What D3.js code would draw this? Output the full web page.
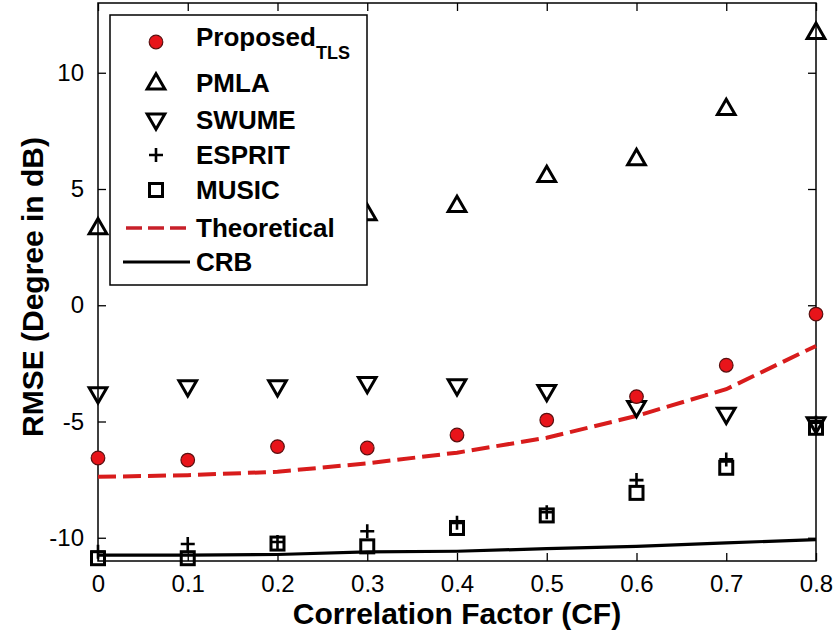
<!DOCTYPE html>
<html>
<head>
<meta charset="utf-8">
<script src="https://cdn.jsdelivr.net/npm/d3@7"></script>
<style>
  html, body { margin: 0; padding: 0; background: #fff; }
  svg { display: block; font-family: "Liberation Sans", Arial, sans-serif; }
</style>
</head>
<body>
<svg id="chart" width="836" height="637"></svg>
<script>
// Correlation factor values (x axis)
const cf = [0, 0.1, 0.2, 0.3, 0.4, 0.5, 0.6, 0.7, 0.8];

// RMSE (dB) for each estimator
const proposedTLS = [-6.57, -6.66, -6.08, -6.14, -5.58, -4.94, -3.93, -2.58, -0.38];
const pmla        = [3.34, 3.5, 3.7, 3.94, 4.29, 5.58, 6.31, 8.47, 11.74];
const swume       = [-3.81, -3.51, -3.51, -3.37, -3.47, -3.71, -4.40, -4.69, -5.10];
const esprit      = [-10.6, -10.27, -10.18, -9.72, -9.36, -8.9, -7.52, -6.63, -5.05];
const music       = [-10.88, -10.88, -10.25, -10.37, -9.58, -9.04, -8.07, -6.99, -5.27];
const theoretical = [-7.38, -7.31, -7.16, -6.80, -6.34, -5.70, -4.76, -3.61, -1.75];
const crb         = [-10.75, -10.75, -10.72, -10.61, -10.58, -10.47, -10.37, -10.22, -10.08];

// Axis ticks
const xTicks = [0, 0.1, 0.2, 0.3, 0.4, 0.5, 0.6, 0.7, 0.8];
const yTicks = [-10, -5, 0, 5, 10];

const legendLabels = ["Proposed", "PMLA", "SWUME", "ESPRIT", "MUSIC", "Theoretical", "CRB"];

const svg = d3.select("#chart");
const plotLeft = 98, plotRight = 816, plotTop = 3, plotBottom = 561;

const x = d3.scaleLinear().domain([0, 0.8]).range([plotLeft, plotRight]);
const y = d3.scaleLinear().domain([-11, 13]).range([plotBottom, plotTop]);

const font = '"Liberation Sans", Arial, sans-serif';

// Axes: ticks pointing inward on all four sides
const axisBottom = d3.axisBottom(x).tickValues(xTicks).tickSizeInner(-8).tickSizeOuter(0)
  .tickPadding(14).tickFormat(d => d === 0 ? "0" : d.toFixed(1));
const axisTop = d3.axisTop(x).tickValues(xTicks).tickSizeInner(-8).tickSizeOuter(0).tickFormat("");
const axisLeft = d3.axisLeft(y).tickValues(yTicks).tickSizeInner(-8).tickSizeOuter(0)
  .tickPadding(14).tickFormat(d => String(d));
const axisRight = d3.axisRight(y).tickValues(yTicks).tickSizeInner(-8).tickSizeOuter(0).tickFormat("");

function styleAxis(g) {
  g.select(".domain").remove();
  g.selectAll(".tick line").attr("stroke", "#000").attr("stroke-width", 1.3);
  g.selectAll(".tick text").attr("fill", "#000").style("font-size", "24px").style("font-family", font);
}

svg.append("g").attr("transform", `translate(0,${plotBottom})`).call(axisBottom).call(styleAxis);
svg.append("g").attr("transform", `translate(0,${plotTop})`).call(axisTop).call(styleAxis);
svg.append("g").attr("transform", `translate(${plotLeft},0)`).call(axisLeft).call(styleAxis);
svg.append("g").attr("transform", `translate(${plotRight},0)`).call(axisRight).call(styleAxis);

// Plot frame
svg.append("rect")
  .attr("x", plotLeft).attr("y", plotTop)
  .attr("width", plotRight - plotLeft).attr("height", plotBottom - plotTop)
  .attr("fill", "none").attr("stroke", "#000").attr("stroke-width", 1.5);

const line = d3.line().x((d, i) => x(cf[i])).y(d => y(d));

// CRB curve
svg.append("path").datum(crb)
  .attr("d", line).attr("fill", "none").attr("stroke", "#000").attr("stroke-width", 3.2);

// Theoretical curve
svg.append("path").datum(theoretical)
  .attr("d", line).attr("fill", "none").attr("stroke", "#d81c1c").attr("stroke-width", 4)
  .attr("stroke-dasharray", "18,7");

// Marker drawers
const tri = d3.symbol().type(d3.symbolTriangle).size(135);
function upTri(g, cx, cy) {
  g.append("path").attr("d", tri()).attr("transform", `translate(${cx},${cy + 1})`)
    .attr("fill", "none").attr("stroke", "#000").attr("stroke-width", 3);
}
function downTri(g, cx, cy) {
  g.append("path").attr("d", tri()).attr("transform", `translate(${cx},${cy - 1}) rotate(180)`)
    .attr("fill", "none").attr("stroke", "#000").attr("stroke-width", 3);
}
function plus(g, cx, cy) {
  g.append("path").attr("d", `M${cx - 7},${cy}H${cx + 7}M${cx},${cy - 7}V${cy + 7}`)
    .attr("fill", "none").attr("stroke", "#000").attr("stroke-width", 2.6);
}
function square(g, cx, cy) {
  g.append("rect").attr("x", cx - 6.5).attr("y", cy - 6.5).attr("width", 13).attr("height", 13)
    .attr("fill", "none").attr("stroke", "#000").attr("stroke-width", 3);
}
function dot(g, cx, cy) {
  g.append("circle").attr("cx", cx).attr("cy", cy).attr("r", 6.8)
    .attr("fill", "#e8141a").attr("stroke", "#5a1010").attr("stroke-width", 1.2);
}

const marks = svg.append("g");
pmla.forEach((v, i) => upTri(marks, x(cf[i]), y(v)));
swume.forEach((v, i) => downTri(marks, x(cf[i]), y(v)));
music.forEach((v, i) => square(marks, x(cf[i]), y(v)));
esprit.forEach((v, i) => plus(marks, x(cf[i]), y(v)));
proposedTLS.forEach((v, i) => dot(marks, x(cf[i]), y(v)));

// Legend
const lg = svg.append("g");
lg.append("rect").attr("x", 110).attr("y", 15).attr("width", 257).attr("height", 270)
  .attr("fill", "#fff").attr("stroke", "#000").attr("stroke-width", 1.5);

const rowY = [42, 83, 120, 155, 190, 228, 262];
const mx = 156, tx = 196;
dot(lg, mx, rowY[0]);
upTri(lg, mx, rowY[1]);
downTri(lg, mx, rowY[2]);
plus(lg, mx, rowY[3]);
square(lg, mx, rowY[4]);
lg.append("line").attr("x1", 126).attr("x2", 191).attr("y1", rowY[5]).attr("y2", rowY[5])
  .attr("stroke", "#c8202a").attr("stroke-width", 3.5).attr("stroke-dasharray", "16,6");
lg.append("line").attr("x1", 123).attr("x2", 190).attr("y1", rowY[6]).attr("y2", rowY[6])
  .attr("stroke", "#000").attr("stroke-width", 3);

legendLabels.forEach((t, i) => {
  const txt = lg.append("text").attr("x", tx).attr("y", rowY[i] + (i === 0 ? 4 : 9))
    .attr("fill", "#000").style("font-size", "26px").style("font-weight", "bold").style("font-family", font)
    .text(t);
  if (i === 0) {
    txt.append("tspan").attr("dy", 13).style("font-size", "18px").text("TLS");
  }
});

// Axis titles
svg.append("text").attr("x", (plotLeft + plotRight) / 2).attr("y", 624).attr("text-anchor", "middle")
  .style("font-size", "30px").style("font-weight", "bold").style("font-family", font)
  .text("Correlation Factor (CF)");
svg.append("text").attr("transform", "translate(43,287) rotate(-90)").attr("text-anchor", "middle")
  .style("font-size", "30px").style("font-weight", "bold").style("font-family", font)
  .text("RMSE (Degree in dB)");
</script>
</body>
</html>
